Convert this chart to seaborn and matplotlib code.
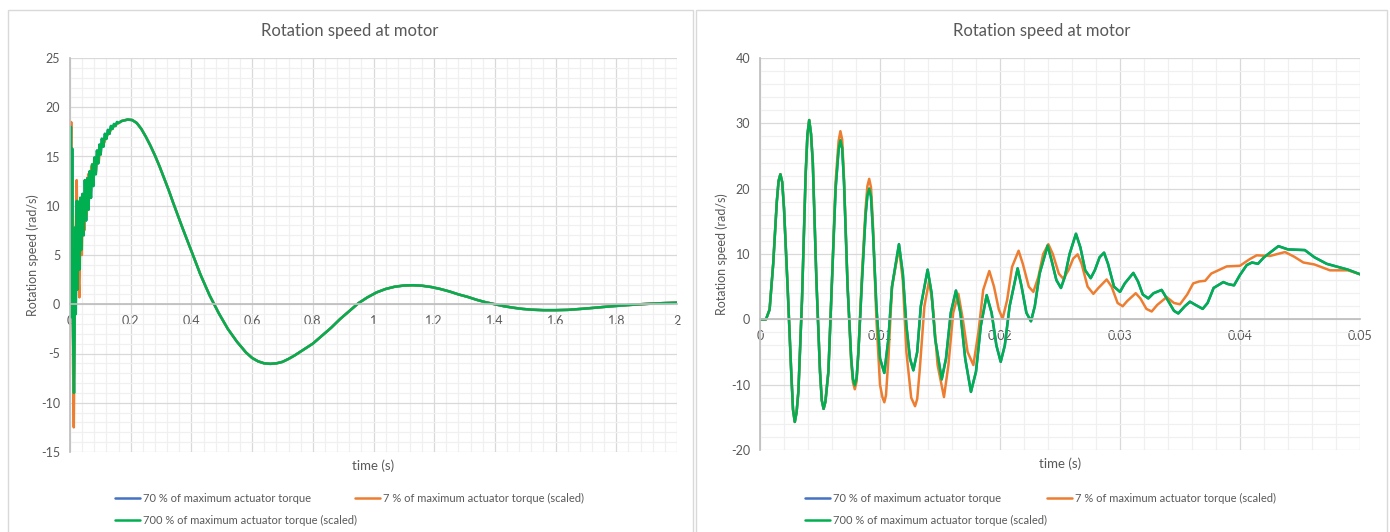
import matplotlib
matplotlib.use("Agg")
import matplotlib.pyplot as plt
from matplotlib.patches import Rectangle
from matplotlib.ticker import MultipleLocator, FuncFormatter
import pandas as pd
import seaborn as sns

# ---- series names and colours ----
series_names = ["70 % of maximum actuator torque",
                "7 % of maximum actuator torque (scaled)",
                "700 % of maximum actuator torque (scaled)"]
series_colors = ["#4472C4", "#ED7D31", "#00B050"]

# ---- long run, 0 .. 2 s ----
# start-up transient of the 700 % (and 70 %) run
t_start_700 = [0.000, 0.002, 0.003, 0.004, 0.005, 0.007, 0.009, 0.011, 0.013, 0.015,
               0.017, 0.019, 0.022, 0.025, 0.028, 0.031, 0.034, 0.037, 0.041, 0.045,
               0.049, 0.053, 0.057, 0.061, 0.065, 0.069, 0.073, 0.077, 0.081, 0.085,
               0.089, 0.093, 0.097, 0.101, 0.105, 0.110, 0.115, 0.120, 0.125, 0.130,
               0.135, 0.140, 0.145, 0.150, 0.155, 0.160, 0.170]
v_start_700 = [0.0, 10.5, 18.0, 4.0, -1.3, 15.8, 0.0, -5.0, -9.0, -3.0,
               7.8, -1.0, 10.5, 1.5, 10.4, 3.5, 10.8, 5.5, 11.2, 7.0,
               12.6, 8.5, 12.8, 9.6, 13.5, 10.8, 14.2, 12.0, 14.9, 13.2,
               15.6, 14.3, 16.2, 15.2, 16.8, 16.0, 17.3, 16.8, 17.7, 17.3,
               18.1, 17.8, 18.3, 18.1, 18.5, 18.4, 18.6]
# start-up transient of the 7 % run
t_start_7 = [0.000, 0.002, 0.004, 0.006, 0.008, 0.010, 0.0125, 0.015, 0.018, 0.022,
             0.026, 0.031, 0.035, 0.039, 0.043, 0.047, 0.051, 0.055, 0.060, 0.065,
             0.070, 0.075, 0.080, 0.085, 0.090, 0.095, 0.100, 0.110, 0.120, 0.130,
             0.140, 0.150, 0.160, 0.170]
v_start_7 = [0.0, 12.0, 18.5, 2.0, 9.0, -6.0, -12.5, -3.0, 6.0, 12.6,
             4.0, 0.7, 9.0, 5.0, 11.0, 7.5, 12.3, 9.0, 13.2, 10.8,
             14.0, 12.2, 14.8, 13.4, 15.5, 14.5, 16.1, 16.2, 17.0, 17.5,
             17.9, 18.2, 18.4, 18.6]
# common slow swing after the transient
t_tail = [0.19, 0.205, 0.22, 0.235, 0.25, 0.265, 0.28, 0.295, 0.31, 0.325,
          0.34, 0.37, 0.40, 0.43, 0.46, 0.49, 0.52, 0.55, 0.58, 0.60,
          0.62, 0.64, 0.66, 0.68, 0.70, 0.72, 0.74, 0.77, 0.80, 0.83,
          0.86, 0.89, 0.92, 0.95, 0.98, 1.01, 1.04, 1.07, 1.10, 1.13,
          1.16, 1.19, 1.22, 1.25, 1.28, 1.31, 1.34, 1.37, 1.40, 1.43,
          1.46, 1.49, 1.52, 1.56, 1.60, 1.64, 1.68, 1.72, 1.76, 1.80,
          1.84, 1.88, 1.92, 1.96, 2.00]
v_tail = [18.75, 18.7, 18.4, 17.8, 17.0, 16.1, 15.1, 14.0, 12.8, 11.6,
          10.3, 7.8, 5.4, 3.0, 0.9, -0.9, -2.5, -3.8, -4.9, -5.45,
          -5.8, -6.0, -6.05, -6.0, -5.85, -5.55, -5.2, -4.6, -4.0, -3.2,
          -2.4, -1.5, -0.7, 0.1, 0.7, 1.2, 1.55, 1.78, 1.9, 1.93,
          1.88, 1.75, 1.55, 1.3, 1.0, 0.75, 0.45, 0.2, 0.0, -0.2,
          -0.35, -0.47, -0.55, -0.6, -0.6, -0.57, -0.48, -0.38, -0.27, -0.17,
          -0.08, 0.0, 0.07, 0.12, 0.16]

# ---- first 50 ms ----
# first cycles, identical for every run
t_zoom_head = [0, 0.0005, 0.0008, 0.0011, 0.0014, 0.00155, 0.0017, 0.00185, 0.0020, 0.0023,
               0.0026, 0.00275, 0.0029, 0.00305, 0.0032, 0.0035, 0.0038, 0.00395, 0.0041, 0.00425,
               0.0044, 0.0047, 0.0050, 0.00515, 0.0053, 0.00545, 0.0057, 0.0060]
v_zoom_head = [0, 0, 1.5, 8.5, 18, 21.2, 22.2, 21, 17, 5,
               -8, -13.8, -15.7, -14.2, -11, 3, 22, 28.2, 30.5, 28.4,
               24, 6, -8, -12.4, -13.7, -12.6, -8, 6]
# 700 % (and 70 %) run from 6.3 ms on
t_zoom_700 = [0.0063, 0.00655, 0.0067, 0.00685, 0.0070, 0.0073, 0.0076, 0.00775, 0.0079, 0.00805,
              0.0082, 0.0085, 0.0088, 0.00895, 0.0091, 0.00925, 0.0094, 0.0097, 0.0100, 0.01036,
              0.0107, 0.0110, 0.01158,
              0.0119, 0.0122, 0.0125, 0.01278, 0.0131, 0.0134, 0.01397, 0.0143, 0.0146, 0.01514,
              0.0155, 0.0159, 0.01633, 0.0167, 0.0171, 0.01758, 0.0180, 0.0184, 0.01889, 0.0193,
              0.0197, 0.02006, 0.0204, 0.0208, 0.02147, 0.0218, 0.0222, 0.02258, 0.0229, 0.0233,
              0.02397, 0.0243, 0.0247, 0.02508, 0.0254, 0.0258, 0.02633, 0.0267, 0.0271, 0.02756,
              0.0279, 0.0283, 0.02867, 0.0290, 0.0295, 0.0300, 0.0304, 0.03111, 0.0315, 0.0319,
              0.03236, 0.0328, 0.03347, 0.0338, 0.0345, 0.03486, 0.0354, 0.03583, 0.0363, 0.03689,
              0.0373, 0.0378, 0.03861, 0.0390, 0.0395, 0.0400, 0.04056, 0.0410, 0.0415, 0.0420,
              0.0432, 0.0440, 0.0454, 0.0462, 0.04722, 0.0480, 0.0490, 0.0500]
v_zoom_700 = [20, 26, 27.4, 26.2, 21, 5, -6, -9.2, -10.1, -9.0,
              -5, 6, 16, 19, 20.0, 18.8, 14, 2, -6, -8.2,
              -3, 5, 11.5,
              7, -1, -6, -7.8, -5, 2, 7.6, 4, -3, -9.2,
              -6, 1, 4.4, 1, -6, -11.1, -8, -1, 3.7, 1,
              -4, -6.5, -4, 2, 7.8, 5, 1, -0.3, 2, 7,
              11.3, 9, 6, 4.8, 6.5, 10, 13.1, 11, 7.5, 6.3,
              7.5, 9.5, 10.2, 8.5, 5, 4.2, 5.5, 7.1, 5.8, 3.8,
              3.2, 4, 4.5, 3.5, 1.3, 0.9, 2, 2.7, 2.2, 1.6,
              2.5, 4.8, 5.7, 5.4, 5.2, 6.8, 8.3, 8.7, 8.5, 9.5,
              11.2, 10.7, 10.6, 9.5, 8.5, 8.1, 7.6, 6.9]
# 7 % run from 6.3 ms on
t_zoom_7 = [0.0063, 0.00655, 0.0067, 0.00685, 0.0070, 0.0073, 0.0076, 0.00775, 0.0079, 0.00805,
            0.0082, 0.0085, 0.0088, 0.00895, 0.0091, 0.00925, 0.0094, 0.0097, 0.0100, 0.0102,
            0.01036, 0.0105, 0.0107, 0.0110, 0.01158, 0.0119, 0.0122, 0.0126, 0.01275, 0.01292,
            0.0131, 0.0133, 0.0137, 0.0141, 0.0144, 0.0148, 0.01533, 0.0157, 0.0161, 0.01653,
            0.0169, 0.0173, 0.01778, 0.0182, 0.0186, 0.01911, 0.0195, 0.0199, 0.02022, 0.0206,
            0.0210, 0.02155, 0.0219, 0.0224, 0.02278, 0.0232, 0.0236, 0.02403, 0.0244, 0.0249,
            0.02528, 0.0257, 0.0261, 0.02647, 0.0268, 0.0273, 0.02778, 0.0282, 0.02889, 0.0293,
            0.0298, 0.03022, 0.0306, 0.03131, 0.0317, 0.0322, 0.03264, 0.0331, 0.03389, 0.0345,
            0.0350, 0.0356, 0.0361, 0.0366, 0.0371, 0.0376, 0.03889, 0.0400, 0.0408, 0.04139,
            0.0425, 0.04375, 0.0445, 0.04528, 0.0462, 0.0475, 0.0490, 0.0500]
v_zoom_7 = [21, 27.3, 28.8, 27.5, 21.5, 5, -6.5, -9.7, -10.7, -9.5,
            -5, 7, 17, 20.4, 21.5, 20.2, 15, 0, -10, -11.9,
            -12.7, -11.6, -6, 5, 11.0, 6, -5, -12, -12.6, -13.3,
            -12.2, -8, 2, 6.0, 2, -7, -11.9, -7, 1, 3.9,
            0, -5, -7.0, -2, 4.5, 7.4, 5, 1.5, 0.1, 3,
            8, 10.5, 8.5, 5, 4.2, 6.5, 10, 11.5, 10, 7,
            6.2, 7.5, 9.3, 9.95, 8.5, 5, 3.9, 4.8, 6.1, 5,
            2.5, 2.0, 2.8, 4.0, 3.2, 1.6, 1.2, 2.2, 3.4, 2.5,
            2.3, 3.8, 5.5, 5.8, 5.9, 7, 8.1, 8.2, 9.2, 9.8,
            9.7, 10.3, 9.6, 8.7, 8.4, 7.5, 7.5, 6.9]

chart_title = "Rotation speed at motor"
x_title = "time (s)"
y_title = "Rotation speed (rad/s)"

GREY_TXT = "#595959"
W, H = 1390, 532


def long_table(runs):
    frames = []
    for name, (t, v) in zip(series_names, runs):
        frames.append(pd.DataFrame({"t": t, "v": v, "series": name}))
    return pd.concat(frames, ignore_index=True)


long_run = long_table([
    (t_start_700 + t_tail, v_start_700 + v_tail),
    (t_start_7 + t_tail, v_start_7 + v_tail),
    (t_start_700 + t_tail, v_start_700 + v_tail),
])
short_run = long_table([
    (t_zoom_head + t_zoom_700, v_zoom_head + v_zoom_700),
    (t_zoom_head + t_zoom_7, v_zoom_head + v_zoom_7),
    (t_zoom_head + t_zoom_700, v_zoom_head + v_zoom_700),
])

sns.set_theme(style="white")
plt.rcParams["font.family"] = ["Lato", "DejaVu Sans"]

fig = plt.figure(figsize=(W / 100, H / 100), dpi=100)
fig.patch.set_facecolor("white")

# chart-area frames
for x0, x1 in [(8, 693), (696, 1387)]:
    fig.add_artist(Rectangle((x0 / W, -0.02), (x1 - x0) / W, (H - 10) / H + 0.02,
                             transform=fig.transFigure, facecolor="white",
                             edgecolor="#D9D9D9", lw=1.0, zorder=0))


def px_axes(left, right, top, bottom):
    return fig.add_axes([left / W, 1 - bottom / H, (right - left) / W, (bottom - top) / H])


def style(ax, xlim, ylim, xstep, ystep, title_x):
    ax.set_xlim(*xlim)
    ax.set_ylim(*ylim)
    ax.xaxis.set_major_locator(MultipleLocator(xstep))
    ax.xaxis.set_minor_locator(MultipleLocator(xstep / 5))
    ax.yaxis.set_major_locator(MultipleLocator(ystep))
    ax.yaxis.set_minor_locator(MultipleLocator(ystep / 5))
    ax.xaxis.set_major_formatter(FuncFormatter(lambda v, p: f"{v:g}"))
    ax.yaxis.set_major_formatter(FuncFormatter(lambda v, p: f"{v:g}"))
    ax.grid(which="major", color="#D9D9D9", lw=0.9)
    ax.grid(which="minor", color="#F0F0F0", lw=0.9)
    ax.set_axisbelow(True)
    for s in ["top", "right"]:
        ax.spines[s].set_visible(False)
    ax.spines["left"].set_color("#BFBFBF")
    ax.spines["bottom"].set_color("#BFBFBF")
    ax.spines["bottom"].set_position(("data", 0))
    ax.tick_params(which="both", length=0, colors=GREY_TXT, labelsize=9)
    ax.tick_params(axis="x", pad=8)
    ax.tick_params(axis="y", pad=7)
    ax.set_xlabel("")
    ax.set_ylabel("")
    ax.text(0.5, -0.035, x_title, transform=ax.transAxes, ha="center", va="center",
            fontsize=9.5, color=GREY_TXT)
    fig.text(title_x / W, 1 - 31 / H, chart_title, ha="center", va="center",
             fontsize=12, color=GREY_TXT)


panels = [
    (long_run, (70, 677, 58, 452), (0, 2), (-15, 25), 0.2, 5, 350, 33, 115, 355),
    (short_run, (760, 1360, 58, 450), (0, 0.05), (-20, 40), 0.01, 10, 1042, 722, 805, 1047),
]

leg_kw = dict(loc="upper left", frameon=False, fontsize=8, handlelength=2.25,
              handletextpad=0.25, labelspacing=0.95, borderpad=0, borderaxespad=0,
              labelcolor=GREY_TXT)

for data, box, xlim, ylim, xstep, ystep, tx, ylab_x, leg_x1, leg_x2 in panels:
    ax = px_axes(*box)
    sns.lineplot(data=data, x="t", y="v", hue="series", hue_order=series_names,
                 palette=series_colors, estimator=None, sort=False, linewidth=1.8,
                 solid_joinstyle="round", solid_capstyle="round", ax=ax)
    handles, labels = ax.get_legend_handles_labels()
    ax.get_legend().remove()
    style(ax, xlim, ylim, xstep, ystep, tx)
    fig.text(ylab_x / W, 1 - ((box[2] + box[3]) / 2) / H, y_title, rotation=90,
             ha="center", va="center", fontsize=9, color=GREY_TXT)
    # left legend column: 70 % and 700 %; right column: 7 %
    fig.legend([handles[0], handles[2]], [labels[0], labels[2]],
               bbox_to_anchor=(leg_x1 / W, 1 - 493 / H), **leg_kw)
    fig.legend([handles[1]], [labels[1]],
               bbox_to_anchor=(leg_x2 / W, 1 - 493 / H), **leg_kw)

fig.savefig("out.png", dpi=100, facecolor="white")
